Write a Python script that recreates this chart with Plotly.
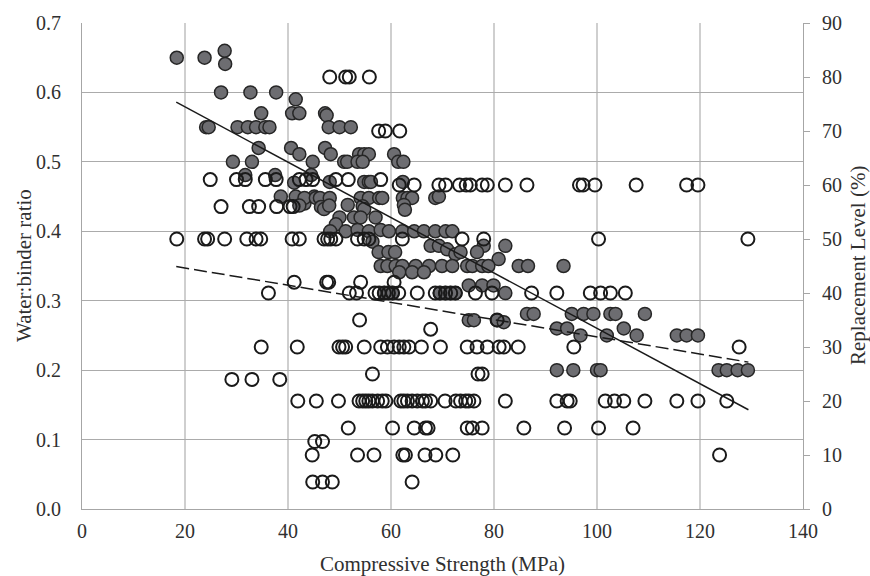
import plotly.graph_objects as go

# Water:binder ratio (primary axis) against compressive strength
wb_strength = [
    18.4, 23.8, 27.7, 27.8, 27.0, 32.7, 37.7, 41.5, 40.8, 34.8, 42.2,
    24.1, 24.6, 30.2, 32.2, 33.8, 35.6, 36.4,
    34.3, 40.6, 42.2, 44.8, 29.3, 33.0,
    31.7, 37.5, 41.2, 44.5,
    38.6, 41.5, 43.2, 45.1,
    47.2, 47.5, 47.9, 50.0, 52.2,
    47.2, 48.3, 50.9, 51.5, 53.8, 54.8, 55.7, 53.5, 54.5, 60.6, 61.4, 62.4,
    48.1, 54.8, 55.7, 56.1, 62.3,
    43.2, 45.4, 46.2, 48.1, 54.1, 55.7, 57.7, 58.3, 62.3, 63.2, 64.1, 68.6, 69.3,
    42.2, 46.4, 47.0, 48.0, 51.6, 54.5, 54.8, 62.5, 62.7,
    50.0, 49.3, 52.8, 54.1, 57.0,
    48.2, 51.2, 53.5, 55.7, 58.0, 59.6, 62.2, 64.5, 66.4, 68.6, 70.6, 71.9,
    56.4, 57.6, 59.5, 60.8, 67.7, 69.3, 70.9, 72.5,
    58.0, 59.3, 60.9, 62.2, 64.8, 67.4, 69.9, 71.9,
    61.6, 64.1, 66.4,
    58.7, 60.3, 69.5, 70.5, 71.5, 72.5,
    78.0, 82.2, 73.5, 76.7, 80.9,
    74.8, 75.8, 77.7, 78.9, 84.8, 86.6, 93.5,
    75.1, 77.7, 79.9, 82.2,
    75.1, 76.1, 80.6, 81.9, 86.4, 87.7,
    95.1, 97.4, 99.3, 92.2, 94.2, 96.8,
    92.2, 95.4, 100.0, 100.7,
    102.6, 103.6, 109.3, 101.9, 105.2, 107.7,
    115.5, 117.4, 119.6,
    123.6, 125.2, 127.3, 129.3,
]
wb_ratio = [
    0.650, 0.650, 0.660, 0.641, 0.600, 0.600, 0.600, 0.590, 0.570, 0.570, 0.570,
    0.550, 0.550, 0.550, 0.550, 0.550, 0.550, 0.550,
    0.520, 0.520, 0.511, 0.500, 0.500, 0.500,
    0.481, 0.481, 0.470, 0.481,
    0.450, 0.450, 0.440, 0.450,
    0.570, 0.567, 0.550, 0.550, 0.550,
    0.520, 0.511, 0.500, 0.500, 0.511, 0.511, 0.511, 0.500, 0.500, 0.511, 0.500, 0.500,
    0.471, 0.471, 0.471, 0.471, 0.471,
    0.448, 0.448, 0.448, 0.448, 0.448, 0.448, 0.448, 0.448, 0.448, 0.448, 0.448, 0.448, 0.450,
    0.437, 0.435, 0.432, 0.437, 0.438, 0.436, 0.432, 0.438, 0.431,
    0.420, 0.410, 0.420, 0.420, 0.420,
    0.400, 0.400, 0.402, 0.400, 0.402, 0.400, 0.400, 0.400, 0.400, 0.400, 0.400, 0.400,
    0.385, 0.370, 0.370, 0.370, 0.379, 0.379, 0.374, 0.367,
    0.350, 0.350, 0.350, 0.350, 0.350, 0.350, 0.350, 0.350,
    0.341, 0.341, 0.341,
    0.311, 0.311, 0.311, 0.311, 0.311, 0.311,
    0.379, 0.379, 0.370, 0.370, 0.360,
    0.350, 0.350, 0.350, 0.350, 0.350, 0.350, 0.350,
    0.322, 0.322, 0.322, 0.311,
    0.272, 0.272, 0.272, 0.269, 0.281, 0.281,
    0.281, 0.281, 0.281, 0.260, 0.260, 0.250,
    0.200, 0.200, 0.200, 0.200,
    0.281, 0.281, 0.281, 0.250, 0.260, 0.250,
    0.250, 0.250, 0.250,
    0.200, 0.200, 0.200, 0.200,
]

# Replacement level (secondary axis) against compressive strength
rep_strength = [
    48.1, 51.2, 51.9, 55.8,
    57.6, 58.9, 61.7,
    24.9, 30.0, 31.7, 35.6, 37.7, 42.2, 43.5, 44.8, 49.3, 51.7, 58.0,
    61.6, 64.5, 69.3, 70.6, 73.3, 74.6, 75.4, 77.7, 78.7, 82.2, 86.4,
    96.6, 97.3, 99.6, 107.6, 117.4, 119.6,
    27.0, 32.5, 34.3, 37.8, 40.4, 41.0,
    18.4, 23.8, 24.4, 27.7, 32.0, 33.8, 34.7, 40.8, 42.2, 47.0, 47.7, 48.3,
    49.3, 53.5, 54.8, 55.7, 62.2, 73.8, 78.0, 100.3, 129.3,
    41.2, 47.5, 47.9, 54.1, 60.6,
    36.2, 51.9, 53.3, 56.9, 57.7, 58.7, 59.5, 60.3, 61.5, 65.1, 68.6, 69.5,
    70.6, 71.6, 72.5, 76.4, 79.6, 87.3, 92.2, 98.7, 100.7, 102.6, 105.5,
    53.9, 80.6,
    67.7,
    34.8, 41.8, 49.9, 50.6, 51.2, 54.8, 58.0, 59.3, 60.6, 61.6, 62.5, 63.5,
    65.9, 69.6, 74.8, 76.7, 78.7, 81.0, 81.9, 84.7, 95.5, 127.6,
    56.4, 76.9, 77.7,
    29.1, 33.0, 38.4,
    41.9, 45.5, 49.8, 53.8, 54.5, 55.1, 55.7, 56.4, 57.4, 58.3, 59.0, 61.9,
    62.5, 63.2, 64.1, 65.1, 66.1, 66.7, 67.7, 70.5, 72.6, 73.5, 74.5, 75.1,
    76.1, 82.2, 92.2, 94.2, 94.8, 101.6, 103.4, 105.2, 109.3, 115.5, 119.6, 125.2,
    51.7, 60.3, 64.5, 66.7, 67.2, 74.8, 75.8, 77.7, 85.8, 93.7, 100.3, 107.0,
    45.2, 46.7,
    44.7, 53.5, 56.7, 62.3, 62.8, 66.6, 68.7, 72.0, 123.8,
    44.8, 46.7, 48.6, 64.1,
]
rep_level = [
    80, 80, 80, 80,
    70, 70, 70,
    61, 61, 61, 61, 61, 61, 61, 61, 61, 61, 61,
    60, 60, 60, 60, 60, 60, 60, 60, 60, 60, 60,
    60, 60, 60, 60, 60, 60,
    56, 56, 56, 56, 56, 56,
    50, 50, 50, 50, 50, 50, 50, 50, 50, 50, 50, 50,
    50, 50, 50, 50, 50, 50, 50, 50, 50,
    42, 42, 42, 42, 42,
    40, 40, 40, 40, 40, 40, 40, 40, 40, 40, 40, 40,
    40, 40, 40, 40, 40, 40, 40, 40, 40, 40, 40,
    35, 35,
    33.3,
    30, 30, 30, 30, 30, 30, 30, 30, 30, 30, 30, 30,
    30, 30, 30, 30, 30, 30, 30, 30, 30, 30,
    25, 25, 25,
    24, 24, 24,
    20, 20, 20, 20, 20, 20, 20, 20, 20, 20, 20, 20,
    20, 20, 20, 20, 20, 20, 20, 20, 20, 20, 20, 20,
    20, 20, 20, 20, 20, 20, 20, 20, 20, 20, 20, 20,
    15, 15, 15, 15, 15, 15, 15, 15, 15, 15, 15, 15,
    12.5, 12.5,
    10, 10, 10, 10, 10, 10, 10, 10, 10,
    5, 5, 5, 5,
]

# Linear trend lines (end points)
trend_strength = [18.3, 129.4]
wb_trend = [0.586, 0.143]
rep_trend = [44.9, 27.2]

x_ticks = [0, 20, 40, 60, 80, 100, 120, 140]
wb_ticks = [0.0, 0.1, 0.2, 0.3, 0.4, 0.5, 0.6, 0.7]
rep_ticks = [0, 10, 20, 30, 40, 50, 60, 70, 80, 90]

FONT = "Liberation Serif"
TXT = "#303030"
AXIS = "#a6a6a6"

fig = go.Figure()

fig.add_trace(go.Scatter(
    x=wb_strength, y=wb_ratio, mode="markers", name="Water:binder ratio",
    marker=dict(size=13, color="#6d6d71", line=dict(color="#262626", width=1.5)),
))
fig.add_trace(go.Scatter(
    x=trend_strength, y=wb_trend, mode="lines", showlegend=False,
    line=dict(color="#1a1a1a", width=1.5),
))
fig.add_trace(go.Scatter(
    x=rep_strength, y=rep_level, mode="markers", name="Replacement Level",
    yaxis="y2",
    marker=dict(size=13, color="rgba(0,0,0,0)", line=dict(color="#1a1a1a", width=2)),
))
fig.add_trace(go.Scatter(
    x=trend_strength, y=rep_trend, mode="lines", showlegend=False, yaxis="y2",
    line=dict(color="#1a1a1a", width=1.5, dash="13px,5px"),
))

fig.update_layout(
    width=870, height=576,
    margin=dict(l=82, r=67, t=21, b=67),
    paper_bgcolor="white", plot_bgcolor="white",
    showlegend=False,
    font=dict(family=FONT, size=20, color=TXT),
    xaxis=dict(
        range=[0, 140], tickvals=x_ticks, showgrid=True, gridcolor="#cfcfcf",
        gridwidth=1.5, showline=True, linecolor=AXIS, linewidth=1.2,
        zeroline=False, ticks="", ticklabelstandoff=4,
        tickfont=dict(family=FONT, size=20, color=TXT),
    ),
    yaxis=dict(
        range=[0, 0.7], tickvals=wb_ticks, tickformat=".1f", showgrid=True,
        gridcolor="#ababab", gridwidth=1, showline=True, linecolor=AXIS,
        linewidth=1.2, zeroline=False, ticks="", ticklabelstandoff=16,
        tickfont=dict(family=FONT, size=20, color=TXT),
    ),
    yaxis2=dict(
        range=[0, 90], tickvals=rep_ticks, overlaying="y", side="right",
        showgrid=False, showline=True, linecolor=AXIS, linewidth=1.2,
        zeroline=False, ticks="outside", ticklen=6, tickcolor=AXIS,
        ticklabelstandoff=8, tickfont=dict(family=FONT, size=20, color=TXT),
    ),
    annotations=[
        dict(text="Compressive Strength (MPa)", xref="paper", yref="paper",
             x=0.5, y=0, xanchor="center", yanchor="middle", yshift=-55,
             showarrow=False, font=dict(family=FONT, size=21, color=TXT)),
        dict(text="Water:binder ratio", xref="paper", yref="paper",
             x=0, y=0.5, xanchor="center", yanchor="middle", xshift=-58,
             textangle=-90, showarrow=False,
             font=dict(family=FONT, size=21, color=TXT)),
        dict(text="Replacement Level (%)", xref="paper", yref="paper",
             x=1, y=0.5, xanchor="center", yanchor="middle", xshift=55,
             textangle=-90, showarrow=False,
             font=dict(family=FONT, size=21, color=TXT)),
    ],
)

fig.write_html("out.html")
